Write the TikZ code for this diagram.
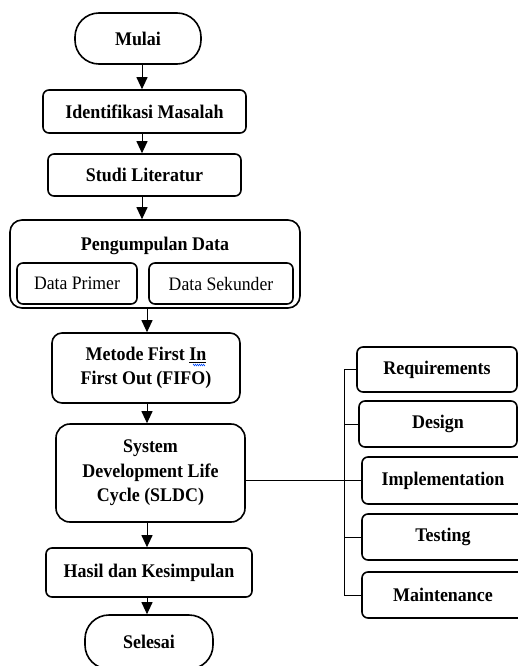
\documentclass[tikz,border=0pt]{standalone}
\usepackage{fontspec}
\setmainfont{Liberation Serif}[FakeStretch=0.93]
\usetikzlibrary{arrows.meta,decorations.pathmorphing,calc}
\begin{document}
\begin{tikzpicture}[x=1pt,y=-1pt]
\tikzset{
  box/.style={draw, line width=1.6pt, rounded corners=6pt, align=center, inner sep=0pt,
    font=\fontsize{19.3}{24.5}\selectfont\bfseries},
  plainbox/.style={box, font=\fontsize{19}{24.5}\selectfont},
  term/.style={box, rounded corners=24pt},
  arr/.style={line width=1pt, -{Triangle[length=12pt,width=11pt]}},
  ln/.style={line width=0.9pt}
}
\useasboundingbox (0,0) rectangle (518,666);
% main column
\node[term, minimum width=126pt, minimum height=51pt] (mulai) at (138,38.5) {Mulai};
\node[box, minimum width=203pt, minimum height=43pt] (ident) at (144.5,111.5) {Identifikasi Masalah};
\node[box, minimum width=193pt, minimum height=42pt] (studi) at (144.5,175) {Studi Literatur};
\node[box, rounded corners=12pt, minimum width=290pt, minimum height=88pt] (kumpul) at (155,264) {};
\node[font=\fontsize{19.3}{24.5}\selectfont\bfseries] (kumpultxt) at (155,246) {Pengumpulan Data};
\node[plainbox, minimum width=120pt, minimum height=41pt] (primer) at (77,283.5) {Data Primer};
\node[plainbox, minimum width=144pt, minimum height=41pt] (sekunder) at (221,283.5) {Data Sekunder};
\node[box, rounded corners=10pt, minimum width=188pt, minimum height=70pt] (fifo) at (146,368) {Metode First \underline{In}\\First Out (FIFO)};
\node[box, rounded corners=14pt, minimum width=189pt, minimum height=98pt] (sdlc) at (150.5,473) {System\\Development Life\\Cycle (SLDC)};
\node[box, minimum width=206pt, minimum height=49pt] (hasil) at (149,572.5) {Hasil dan Kesimpulan};
\node[term, minimum width=128pt, minimum height=54pt] (selesai) at (149,642) {Selesai};
% blue spell-check squiggle
\draw[blue!70!cyan, line width=0.5pt, decorate, decoration={zigzag, amplitude=0.8pt, segment length=2pt}]
  ($(fifo.center)+(47,-3)$) -- ($(fifo.center)+(59,-3)$);
% right column
\node[box, minimum width=160pt, minimum height=45pt] (req) at (437,369.5) {Requirements};
\node[box, minimum width=158pt, minimum height=46pt] (design) at (438,424) {Design};
\node[box, minimum width=162pt, minimum height=47pt] (impl) at (443,480.5) {Implementation};
\node[box, minimum width=162pt, minimum height=46pt] (test) at (443,537) {Testing};
\node[box, minimum width=162pt, minimum height=46pt] (maint) at (443,595) {Maintenance};
% columns for arrows
\coordinate (c1) at (142,0);
\coordinate (c2) at (147,0);
\coordinate (bx) at (344,0);
\draw[arr] (mulai.south -| c1) -- (ident.north -| c1);
\draw[arr] (ident.south -| c1) -- (studi.north -| c1);
\draw[arr] (studi.south -| c1) -- (kumpul.north -| c1);
\draw[arr] (kumpul.south -| c2) -- (fifo.north -| c2);
\draw[arr] (fifo.south -| c2) -- (sdlc.north -| c2);
\draw[arr] (sdlc.south -| c2) -- (hasil.north -| c2);
\draw[arr] (hasil.south -| c2) -- (selesai.north -| c2);
% bracket
\draw[ln] (sdlc.east |- impl.west) -- (impl.west);
\draw[ln] (req.west) -- (req.west -| bx) -- (maint.west -| bx) -- (maint.west);
\draw[ln] (design.west -| bx) -- (design.west);
\draw[ln] (test.west -| bx) -- (test.west);
\end{tikzpicture}
\end{document}
